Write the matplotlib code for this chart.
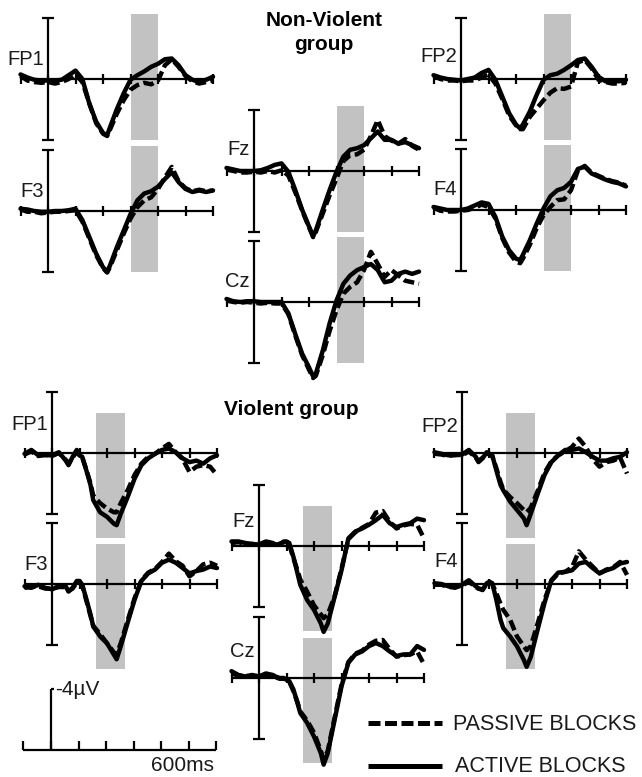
import matplotlib.pyplot as plt
from matplotlib.patches import Rectangle

# sample times (ms) of the traced waveforms
t_nonviolent = [-100, -75, -50, -25, 0, 25, 50, 75, 100, 125, 150, 175, 200, 215, 225,
                250, 275, 300, 325, 350, 375, 400, 425, 450, 475, 500, 525, 550, 575, 600]
t_violent = [-100, -75, -50, -25, 0, 25, 50, 60, 75, 90, 100, 110, 125, 140, 150, 175, 200,
             225, 235, 250, 275, 300, 325, 350, 375, 400, 425, 450, 475, 500, 525, 550, 575, 600]

# amplitudes in uV (plotted negative up)
nv_fp1_active = [-0.3, -0.1, 0.05, 0.1, 0.1, 0.1, 0.05, -0.25, -0.55, 0.0, 1.6, 2.8, 3.55, 3.7, 3.2,
                 2.0, 0.95, 0.05, -0.25, -0.5, -0.8, -1.0, -1.3, -1.35, -0.9, -0.25, 0.05, 0.2, 0.05, -0.15]
nv_fp1_passive = [-0.2, 0.1, 0.2, 0.25, 0.2, 0.3, 0.2, 0.0, -0.3, 0.2, 1.6, 2.9, 3.6, 3.75, 3.35,
                  2.3, 1.4, 0.7, 0.4, 0.25, 0.35, 0.1, -0.9, -1.3, -0.8, -0.2, 0.15, 0.3, 0.2, 0.1]
nv_f3_active = [-0.15, -0.1, 0.0, 0.05, 0.05, 0.0, 0.0, -0.05, -0.15, 0.6, 1.7, 2.8, 3.7, 4.0, 3.6,
                2.4, 1.3, 0.2, -0.7, -1.15, -1.3, -1.6, -2.1, -2.55, -1.9, -1.45, -1.25, -1.35, -1.25, -1.35]
nv_f3_passive = [-0.1, 0.05, 0.05, 0.15, 0.1, 0.05, 0.05, 0.0, -0.05, 0.7, 1.8, 2.9, 3.75, 4.05, 3.7,
                 2.6, 1.5, 0.5, -0.25, -0.7, -0.9, -1.45, -2.2, -2.9, -1.95, -1.5, -1.3, -1.4, -1.3, -1.35]
nv_fz_active = [-0.2, -0.1, 0.0, 0.0, 0.0, -0.05, -0.2, -0.4, -0.5, 0.05, 1.25, 2.55, 3.65, 4.3, 3.9,
                2.55, 1.25, 0.05, -0.95, -1.4, -1.5, -1.7, -2.15, -2.6, -2.05, -2.05, -1.8, -1.9, -1.7, -1.5]
nv_fz_passive = [-0.1, 0.0, 0.1, 0.1, 0.05, 0.1, 0.0, 0.1, -0.05, 0.3, 1.4, 2.6, 3.7, 4.35, 4.0,
                 2.8, 1.6, 0.5, -0.65, -1.05, -1.1, -1.4, -2.3, -3.35, -2.3, -2.0, -1.8, -2.1, -1.65, -1.4]
nv_cz_active = [-0.2, -0.05, 0.0, -0.05, -0.05, 0.0, 0.0, 0.0, 0.0, 0.75, 2.1, 3.4, 4.3, 4.9, 4.7,
                3.2, 1.4, -0.1, -1.2, -1.75, -2.1, -2.3, -2.5, -2.1, -1.3, -1.4, -1.85, -2.0, -1.85, -2.0]
nv_cz_passive = [-0.1, 0.0, 0.05, 0.0, 0.05, 0.1, 0.05, 0.1, 0.1, 0.8, 2.2, 3.5, 4.45, 5.0, 4.85,
                 3.5, 1.9, 0.55, -0.55, -1.0, -1.3, -2.1, -3.3, -2.5, -1.65, -2.1, -1.75, -1.4, -1.3, -1.2]
nv_fp2_active = [-0.25, -0.1, 0.0, 0.05, 0.1, 0.0, -0.1, -0.4, -0.6, 0.05, 1.15, 2.25, 3.0, 3.25, 3.0,
                 2.15, 1.05, 0.05, -0.25, -0.35, -0.6, -0.9, -1.25, -1.35, -0.8, -0.15, 0.15, 0.15, 0.15, 0.05]
nv_fp2_passive = [-0.2, 0.0, 0.1, 0.1, 0.15, 0.1, 0.1, -0.1, -0.3, 0.3, 1.3, 2.4, 3.05, 3.3, 3.3,
                  2.5, 1.95, 1.4, 0.9, 0.6, 0.65, 0.5, -1.1, -1.25, -0.7, 0.05, 0.2, 0.3, 0.3, 0.25]
nv_f4_active = [-0.2, -0.1, 0.0, 0.0, 0.0, -0.1, -0.3, -0.5, -0.4, 0.45, 1.75, 2.65, 3.2, 3.3, 2.95,
                2.0, 0.9, -0.1, -0.9, -1.3, -1.45, -1.85, -2.7, -2.85, -2.4, -2.2, -2.0, -1.85, -1.75, -1.55]
nv_f4_passive = [-0.15, 0.05, 0.1, 0.1, 0.05, 0.0, -0.15, -0.35, -0.2, 0.55, 1.85, 2.8, 3.4, 3.5, 3.2,
                 2.3, 1.2, 0.35, -0.2, -0.65, -0.7, -1.3, -2.6, -2.9, -2.45, -2.25, -2.05, -1.9, -1.8, -1.6]

v_fp1_active = [0.05, -0.2, 0.15, 0.15, 0.15, -0.05, 0.5, 0.8, 0.25, -0.2, 0.15, 0.25, 1.15, 2.1, 3.1, 3.9, 4.2,
                4.65, 4.75, 4.0, 2.9, 1.7, 0.8, 0.35, 0.05, -0.2, -0.3, -0.05, 0.35, 0.6, 0.5, 0.7, 0.35, 0.15]
v_fp1_passive = [0.1, -0.1, 0.2, 0.1, 0.2, 0.0, 0.45, 0.7, 0.3, -0.1, 0.2, 0.3, 1.1, 2.0, 2.8, 3.3, 3.65,
                 3.9, 3.9, 3.3, 2.45, 1.45, 0.7, 0.25, 0.05, -0.3, -0.6, -0.05, 0.4, 1.25, 0.9, 0.8, 0.9, 1.45]
v_f3_active = [0.15, 0.25, 0.05, 0.25, 0.35, 0.15, 0.15, 0.5, 0.25, -0.2, -0.2, 0.05, 1.0, 2.0, 2.8, 3.45, 3.9,
               4.65, 4.95, 4.1, 2.55, 1.05, -0.2, -0.7, -0.95, -1.4, -1.6, -1.4, -1.05, -0.7, -0.85, -0.95, -1.15, -1.05]
v_f3_passive = [0.25, 0.2, 0.15, 0.3, 0.3, 0.2, 0.2, 0.45, 0.3, -0.1, -0.15, 0.1, 1.1, 2.1, 2.75, 3.3, 3.9,
                4.5, 4.6, 3.9, 2.4, 0.95, -0.25, -0.75, -1.0, -1.45, -2.0, -1.5, -1.2, -0.5, -0.85, -1.3, -1.4, -1.2]
v_fz_active = [-0.3, -0.3, -0.2, -0.1, -0.1, -0.3, -0.2, -0.1, -0.1, -0.3, -0.3, -0.2, 0.7, 1.8, 2.55, 3.55, 4.2,
               5.1, 5.65, 5.1, 3.35, 1.6, -0.5, -0.95, -1.15, -1.4, -1.7, -2.05, -1.5, -1.25, -1.4, -1.5, -1.8, -1.7]
v_fz_passive = [-0.2, -0.25, -0.15, -0.15, -0.05, -0.2, -0.15, -0.05, -0.15, -0.25, -0.25, -0.1, 0.8, 1.6, 2.2, 3.0, 3.9,
                4.5, 4.75, 4.5, 3.3, 1.5, -0.45, -0.9, -1.2, -1.45, -2.2, -2.3, -1.6, -1.15, -1.35, -1.45, -1.4, -0.5]
v_cz_active = [-0.45, -0.2, -0.1, -0.2, -0.1, -0.3, -0.2, -0.1, 0.0, 0.0, 0.1, 0.2, 0.75, 1.65, 2.3, 2.95, 3.85,
               4.95, 5.7, 4.95, 2.75, 0.55, -1.0, -1.55, -1.75, -2.1, -2.3, -2.1, -1.75, -1.45, -1.55, -1.55, -2.1, -1.85]
v_cz_passive = [-0.3, -0.15, -0.15, -0.1, -0.15, -0.2, -0.1, -0.05, 0.05, 0.05, 0.1, 0.25, 0.85, 1.6, 2.2, 2.8, 3.6,
                4.8, 5.35, 4.8, 2.6, 0.45, -1.05, -1.6, -1.8, -2.2, -2.45, -2.5, -1.9, -1.4, -1.5, -1.55, -1.75, -0.9]
v_fp2_active = [-0.05, 0.05, 0.15, 0.15, 0.1, -0.2, 0.25, 0.6, 0.35, -0.05, 0.05, 0.15, 1.15, 2.1, 2.45, 3.2, 3.75,
                4.3, 4.75, 4.0, 2.7, 1.45, 0.6, 0.15, -0.2, -0.2, -0.3, -0.05, 0.25, 0.5, 0.5, 0.35, 0.25, -0.05]
v_fp2_passive = [0.05, 0.1, 0.2, 0.1, 0.15, -0.1, 0.3, 0.55, 0.3, 0.0, 0.1, 0.2, 1.0, 1.9, 2.4, 2.9, 3.3,
                 3.75, 3.9, 3.6, 2.5, 1.3, 0.55, 0.15, -0.1, -0.4, -0.95, -0.4, 0.4, 0.9, 0.6, 0.5, 0.3, 1.35]
v_f4_active = [-0.05, 0.0, 0.15, 0.25, 0.05, -0.25, 0.15, 0.3, 0.4, -0.05, -0.15, -0.05, 1.05, 2.35, 2.9, 3.45, 4.1,
               5.0, 5.45, 4.8, 3.0, 1.25, -0.25, -0.75, -0.8, -0.9, -1.35, -1.45, -1.05, -0.7, -0.9, -1.05, -1.35, -1.45]
v_f4_passive = [0.05, 0.05, 0.2, 0.2, 0.1, -0.15, 0.2, 0.3, 0.35, 0.0, -0.1, 0.0, 0.6, 1.3, 1.7, 2.35, 3.45,
                4.1, 4.35, 4.1, 2.6, 1.05, -0.2, -0.7, -0.8, -1.1, -2.15, -1.6, -1.15, -0.7, -0.95, -1.1, -1.45, -0.6]

# analysis windows (grey bars): ms and uV extent
nv_window_ms = [300, 400]
nv_window_uv = [-4.3, 4.0]
v_window_ms = [160, 265]
v_window_uv = [-2.6, 5.6]

tick_ms = [-100, 0, 100, 200, 300, 400, 500, 600]
axis_uv = 4
scale_ms = 600
scale_uv = -4

W, H = 642, 777
PX_MS = 0.275   # pixels per ms
PX_UV = 15.2    # pixels per uV
XLIM = (-130, 630)
YTOP, YBOT = -5.5, 6.8

fig = plt.figure(figsize=(W / 100, H / 100), dpi=100)
TXT = dict(family='Liberation Sans', color='#1a1a1a')


def panel(x0, base, xlim=XLIM, ylim=(YTOP, YBOT)):
    left = x0 + xlim[0] * PX_MS
    width = (xlim[1] - xlim[0]) * PX_MS
    top = base + ylim[0] * PX_UV
    height = (ylim[1] - ylim[0]) * PX_UV
    ax = fig.add_axes([left / W, 1 - (top + height) / H, width / W, height / H])
    ax.set_xlim(*xlim)
    ax.set_ylim(ylim[1], ylim[0])
    ax.axis('off')
    return ax


def draw(x0, base, label, lab_y, t, active, passive, win_ms, win_uv):
    ax = panel(x0, base)
    ax.add_patch(Rectangle((win_ms[0], win_uv[0]), win_ms[1] - win_ms[0], win_uv[1] - win_uv[0],
                           color='#c2c2c2', lw=0, zorder=0))
    k = dict(color='black', lw=1.6, zorder=1, solid_capstyle='butt')
    ax.plot([tick_ms[0], tick_ms[-1]], [0, 0], **k)
    ax.plot([0, 0], [-axis_uv, axis_uv], **k)
    for yy in (-axis_uv, axis_uv):
        ax.plot([-22, 22], [yy, yy], **k)
    for tt in tick_ms:
        ax.plot([tt, tt], [-0.3, 0.3], **k)
    ax.plot(t, active, color='black', lw=3.2, zorder=3, solid_capstyle='round', solid_joinstyle='round')
    ax.plot(t, passive, color='black', lw=3.2, zorder=4, dashes=(2.4, 1.0))
    ax.text(-15, lab_y, label, ha='right', va='baseline', fontsize=14.5, **TXT)


nv_win = (nv_window_ms, nv_window_uv)
v_win = (v_window_ms, v_window_uv)
draw(48, 79, 'FP1', -0.95, t_nonviolent, nv_fp1_active, nv_fp1_passive, *nv_win)
draw(48, 211, 'F3', -0.95, t_nonviolent, nv_f3_active, nv_f3_passive, *nv_win)
draw(254, 171, 'Fz', -1.05, t_nonviolent, nv_fz_active, nv_fz_passive, *nv_win)
draw(254, 302, 'Cz', -1.0, t_nonviolent, nv_cz_active, nv_cz_passive, *nv_win)
draw(461, 79, 'FP2', -1.1, t_nonviolent, nv_fp2_active, nv_fp2_passive, *nv_win)
draw(461, 210, 'F4', -1.0, t_nonviolent, nv_f4_active, nv_f4_passive, *nv_win)

draw(52, 453, 'FP1', -1.5, t_violent, v_fp1_active, v_fp1_passive, *v_win)
draw(52, 584, 'F3', -0.95, t_violent, v_f3_active, v_f3_passive, *v_win)
draw(259, 546, 'Fz', -1.25, t_violent, v_fz_active, v_fz_passive, *v_win)
draw(259, 678, 'Cz', -1.4, t_violent, v_cz_active, v_cz_passive, *v_win)
draw(462, 453, 'FP2', -1.4, t_violent, v_fp2_active, v_fp2_passive, *v_win)
draw(462, 584, 'F4', -1.1, t_violent, v_f4_active, v_f4_passive, *v_win)

# calibration bar, same scale as the panels
axs = panel(51, 750, xlim=(-130, 700), ylim=(-5.0, 1.6))
k = dict(color='black', lw=1.6, solid_capstyle='butt')
axs.plot([-100, scale_ms], [0, 0], **k)
for tt in tick_ms:
    axs.plot([tt, tt], [0, -0.6], **k)
axs.plot([0, 0], [0, scale_uv], **k)
axs.plot([0, 12], [scale_uv, scale_uv], **k)
axs.text(16, scale_uv + 0.05, '-4\u00b5V', ha='left', va='center', fontsize=15, **TXT)
axs.text(480, 1.4, '600ms', ha='center', va='baseline', fontsize=15, **TXT)

# titles and legend in pixel space
ov = fig.add_axes([0, 0, 1, 1])
ov.set_xlim(0, W)
ov.set_ylim(H, 0)
ov.axis('off')
B = dict(ha='center', va='baseline', fontsize=15, fontweight='bold', family='Liberation Sans')
ov.text(324, 26, 'Non-Violent', **B)
ov.text(324, 50, 'group', **B)
ov.text(291, 415, 'Violent group', **B)
ov.plot([368, 442], [723, 723], color='black', lw=3.6, dashes=(2.4, 0.9))
ov.plot([368, 442], [766, 766], color='black', lw=3.6, solid_capstyle='butt')
ov.text(453, 724, 'PASSIVE BLOCKS', ha='left', va='center', fontsize=15.5, **TXT)
ov.text(455, 766, 'ACTIVE BLOCKS', ha='left', va='center', fontsize=15.5, **TXT)

fig.savefig('out.png', dpi=100)
